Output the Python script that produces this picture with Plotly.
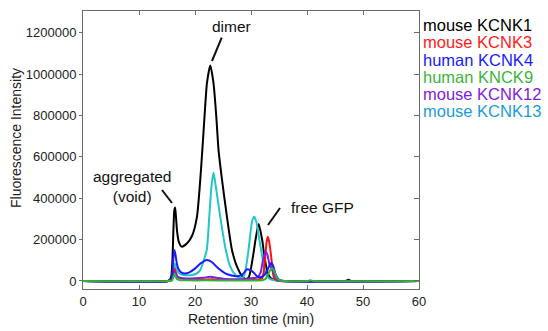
import plotly.graph_objects as go

# ---------------- data ----------------
names = ["mouse KCNK1", "mouse KCNK3", "human KCNK4", "human KNCK9", "mouse KCNK12", "mouse KCNK13"]

k1_x = [0, 15.2, 15.7, 15.95, 16.15, 16.3, 16.45, 16.6, 16.8, 17.1, 17.6, 18.5, 19.5, 20.35, 21.07, 21.7, 22.14,
        22.73, 23.3, 23.8, 24.2, 24.9, 25.7, 26.6, 27.5, 28.4, 29.0, 29.6, 30.35, 30.8, 31.36, 32.0, 32.4, 33.0,
        33.6, 34.5, 36.0, 46.8, 47.4, 48.0, 60]
k1_y = [0, 0, 15000, 90000, 250000, 340000, 355000, 310000, 240000, 190000, 166000, 180000, 220000, 311000,
        537000, 795000, 957000, 1042000, 957000, 795000, 634000, 473000, 311000, 150000, 69000, 24000, 10000,
        18000, 118000, 198000, 275000, 198000, 118000, 37000, 12000, 3000, 0, 0, 6000, 0, 0]

k3_x = [0, 15.2, 15.8, 16.1, 16.35, 16.6, 16.9, 17.5, 18.5, 21, 23, 25, 27, 29, 30.5, 31.5, 32.0, 32.3, 32.55,
        32.8, 33.0, 33.25, 33.6, 33.85, 34.1, 34.6, 35.5, 60]
k3_y = [0, 0, 5000, 30000, 60000, 40000, 20000, 12000, 8000, 7000, 8000, 6000, 5000, 5000, 6000, 9000, 13000,
        50000, 118000, 190000, 214000, 190000, 118000, 55000, 15000, 4000, 0, 0]

k4_x = [0, 15.2, 15.8, 16.05, 16.3, 16.5, 16.75, 17.1, 17.6, 18.2, 19.0, 20.05, 21.0, 22.1, 23.0, 24.0, 25.4,
        26.5, 27.8, 28.6, 29.3, 29.9, 30.5, 31.0, 31.5, 32.2, 32.8, 33.3, 33.65, 34.0, 34.4, 35.0, 36.0, 60]
k4_y = [0, 0, 10000, 80000, 150000, 130000, 85000, 55000, 40000, 36000, 42000, 61000, 85000, 102000, 92000,
        65000, 37000, 27000, 24000, 35000, 57000, 52000, 40000, 25000, 18000, 25000, 45000, 75000, 88000, 70000,
        30000, 6000, 0, 0]

k9_x = [0, 15.2, 15.9, 16.15, 16.35, 16.55, 16.8, 17.3, 18.5, 22, 26, 30, 32.0, 32.6, 33.1, 33.5, 33.8, 34.2,
        34.6, 35.2, 36, 40.0, 40.6, 41.2, 60]
k9_y = [0, 0, 3000, 20000, 35000, 22000, 8000, 4000, 3000, 3000, 2000, 2000, 4000, 10000, 35000, 55000, 61000,
        45000, 15000, 3000, 0, 0, 3000, 0, 0]

k12_x = [0, 15.2, 15.8, 16.1, 16.35, 16.6, 16.9, 17.5, 18.5, 20, 21.5, 22.7, 24, 25.5, 27, 28.5, 29.5, 30.5,
         31.2, 31.7, 32.1, 32.55, 32.9, 33.3, 33.7, 34.1, 34.6, 35.5, 60]
k12_y = [0, 0, 5000, 25000, 45000, 32000, 20000, 14000, 12000, 13000, 16000, 20000, 15000, 10000, 8000, 9000,
         12000, 14000, 18000, 40000, 95000, 142000, 130000, 80000, 60000, 35000, 8000, 0, 0]

k13_x = [0, 15.2, 15.8, 16.1, 16.35, 16.6, 16.9, 17.4, 18.2, 19.2, 20.2, 21.0, 21.5, 22.1, 22.55, 22.95, 23.3,
         23.7, 24.5, 25.5, 26.3, 27.2, 28.0, 28.7, 29.4, 29.9, 30.25, 30.6, 31.0, 31.5, 32.0, 32.6, 33.3, 34.2,
         35.0, 60]
k13_y = [0, 0, 8000, 50000, 85000, 65000, 45000, 33000, 28000, 28000, 35000, 55000, 95000, 150000, 311000,
         460000, 524000, 460000, 311000, 150000, 69000, 29000, 15000, 21000, 118000, 230000, 295000, 311000,
         280000, 198000, 118000, 37000, 10000, 3000, 0, 0]

x_ticks = [0, 10, 20, 30, 40, 50, 60]
y_ticks = [0, 200000, 400000, 600000, 800000, 1000000, 1200000]

line_colors = {"mouse KCNK1": "#000000", "mouse KCNK3": "#ff1010", "human KCNK4": "#1a1aff",
               "human KNCK9": "#33b333", "mouse KCNK12": "#7f1fe6", "mouse KCNK13": "#22c6c9"}
text_colors = {"mouse KCNK1": "#000000", "mouse KCNK3": "#ff1a1a", "human KCNK4": "#1a1aff",
               "human KNCK9": "#3cb43c", "mouse KCNK12": "#8020e0", "mouse KCNK13": "#1a9bd7"}

series = {"mouse KCNK1": (k1_x, k1_y), "mouse KCNK3": (k3_x, k3_y), "human KCNK4": (k4_x, k4_y),
          "human KNCK9": (k9_x, k9_y), "mouse KCNK12": (k12_x, k12_y), "mouse KCNK13": (k13_x, k13_y)}
draw_order = ["mouse KCNK1", "mouse KCNK13", "mouse KCNK3", "mouse KCNK12", "human KCNK4", "human KNCK9"]

# ---------------- layout geometry ----------------
W, H = 548, 331
L, R, T, B = 83, 129, 11, 42
PW, PH = W - L - R, H - T - B


def px(xp):
    return (xp - L) / PW


def py(yp):
    return (H - B - yp) / PH


FONT = "Liberation Sans, Arial, sans-serif"
fig = go.Figure()
for n in draw_order:
    xs, ys = series[n]
    fig.add_trace(go.Scatter(x=xs, y=ys, mode="lines", name=n,
                             line=dict(color=line_colors[n], width=2, shape="spline", smoothing=0.6),
                             showlegend=False))

y_range = [-38700, 1304900]
axis_col = "#6a6a6a"
fig.update_layout(
    width=W, height=H, margin=dict(l=L, r=R, t=T, b=B, autoexpand=False),
    paper_bgcolor="white", plot_bgcolor="white",
    font=dict(family=FONT, size=13, color="#222"),
    xaxis=dict(range=[0, 60], tickvals=x_ticks, ticks="inside", ticklen=4, tickcolor=axis_col,
               showline=True, linecolor=axis_col, linewidth=1, mirror="ticks", showgrid=False,
               zeroline=False, tickfont=dict(size=13, color="#222")),
    yaxis=dict(range=y_range, tickvals=y_ticks, tickformat="d", ticks="outside", ticklen=3,
               tickcolor=axis_col, showline=True, linecolor=axis_col, linewidth=1, mirror=False,
               showgrid=False, zeroline=False, tickfont=dict(size=13, color="#222")),
    yaxis2=dict(range=y_range, tickvals=y_ticks, overlaying="y", side="right", ticks="inside", ticklen=5,
                tickcolor=axis_col, showline=True, linecolor=axis_col, linewidth=1, showticklabels=False,
                showgrid=False, zeroline=False),
)
# dummy trace to activate yaxis2
fig.add_trace(go.Scatter(x=[None], y=[None], yaxis="y2", showlegend=False, hoverinfo="skip"))

ann = []
# axis titles
ann.append(dict(text="Fluorescence Intensity", x=px(16), y=py(138), xref="paper", yref="paper",
                textangle=-90, showarrow=False, font=dict(size=14, color="#222"), xanchor="center", yanchor="middle"))
ann.append(dict(text="Retention time (min)", x=px(251), y=py(319), xref="paper", yref="paper",
                showarrow=False, font=dict(size=14, color="#222"), xanchor="center", yanchor="middle"))
# legend as coloured text
leg_y = [25, 42, 59.5, 77, 94, 110.5]
for n, yy in zip(names, leg_y):
    ann.append(dict(text=n, x=px(421), y=py(yy), xref="paper", yref="paper", showarrow=False,
                    xanchor="left", yanchor="middle", font=dict(size=16.5, color=text_colors[n])))
# peak labels
for txt, cx, cy in [("dimer", 231, 27), ("aggregated<br>(void)", 132, 186), ("free GFP", 322, 207)]:
    ann.append(dict(text=txt, x=px(cx), y=py(cy), xref="paper", yref="paper", showarrow=False,
                    xanchor="center", yanchor="middle", font=dict(size=15.5, color="#111")))
fig.update_layout(annotations=ann)

# leader lines
for (x0, y0, x1, y1) in [(221.7, 37.7, 212, 61), (162, 190, 172, 203), (280, 208, 268, 225)]:
    fig.add_shape(type="line", xref="paper", yref="paper", x0=px(x0), y0=py(y0), x1=px(x1), y1=py(y1),
                  line=dict(color="#111", width=2))

fig.write_html("out.html", config={"displayModeBar": False},
               post_script="document.body.style.margin='0';document.body.style.overflow='hidden';")
